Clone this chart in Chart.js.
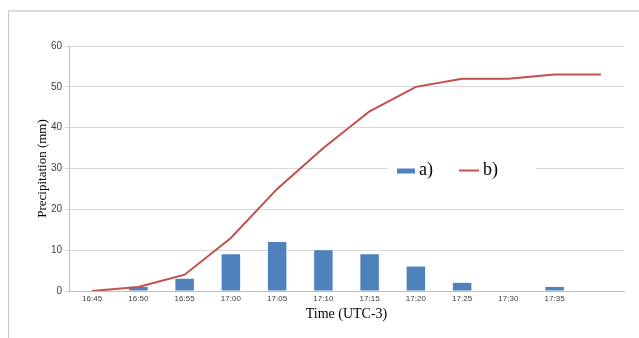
<!DOCTYPE html>
<html>
<head>
<meta charset="utf-8">
<script src="https://cdn.jsdelivr.net/npm/chart.js@4"></script>
<style>
  html, body { margin: 0; padding: 0; background: #fff; }
  #wrap { width: 639px; height: 338px; position: relative; }
</style>
</head>
<body>
<div id="wrap"><canvas id="myChart" width="639" height="338"></canvas></div>
<script>
const labels = ["16:45", "16:50", "16:55", "17:00", "17:05", "17:10", "17:15", "17:20", "17:25", "17:30", "17:35", ""];
const seriesA = [0, 1, 3, 9, 12, 10, 9, 6, 2, 0, 1, null];
const seriesB = [0, 1, 4, 13, 25, 35, 44, 50, 52, 52, 53, 53];
const yTicks = [0, 10, 20, 30, 40, 50, 60];

const blue = "#4f81bd";
const red = "#c0504d";
const serif = "'Liberation Serif', 'DejaVu Serif', serif";
const sans = "'Liberation Sans', Arial, sans-serif";

// frame lines (top and left edge of the chart box)
const framePlugin = {
  id: "frame",
  beforeDraw(chart) {
    const c = chart.ctx;
    c.save();
    c.fillStyle = "#fff";
    c.fillRect(0, 0, chart.width, chart.height);
    c.strokeStyle = "#dcdcdc";
    c.lineWidth = 2;
    c.beginPath();
    c.moveTo(8, 11);
    c.lineTo(chart.width, 11);
    c.stroke();
    c.strokeStyle = "#c8c8c8";
    c.lineWidth = 1;
    c.beginPath();
    c.moveTo(8.5, 11);
    c.lineTo(8.5, chart.height);
    c.stroke();
    c.restore();
  },
};

// legend drawn inside the plot, over the 30 gridline
const legendPlugin = {
  id: "innerLegend",
  afterDatasetsDraw(chart) {
    const c = chart.ctx;
    const bars = chart.data.datasets.find((d) => d.type === "bar");
    const line = chart.data.datasets.find((d) => d.type === "line");
    const y = chart.scales.y.getPixelForValue(30);
    c.save();
    c.fillStyle = "#fff";
    c.fillRect(388, y - 11, 148, 23);
    c.font = "18px " + serif;
    c.textBaseline = "middle";
    // a)
    c.fillStyle = bars.backgroundColor;
    c.fillRect(397, y, 18, 5);
    c.fillStyle = "#000";
    c.fillText(bars.label, 419, y + 2);
    // b)
    c.strokeStyle = line.borderColor;
    c.lineWidth = 2;
    c.beginPath();
    c.moveTo(459, y + 2);
    c.lineTo(479, y + 2);
    c.stroke();
    c.fillText(line.label, 483, y + 2);
    c.restore();
  },
};

const ctx = document.getElementById("myChart").getContext("2d");

const myChart = new Chart(ctx, {
  data: {
    labels: labels,
    datasets: [
      {
        type: "line",
        label: "b)",
        data: seriesB,
        borderColor: red,
        backgroundColor: red,
        borderWidth: 2,
        pointRadius: 0,
        tension: 0,
        order: 1,
      },
      {
        type: "bar",
        label: "a)",
        data: seriesA,
        backgroundColor: blue,
        borderWidth: 0,
        barPercentage: 0.8,
        categoryPercentage: 0.5,
        order: 2,
      },
    ],
  },
  options: {
    responsive: false,
    animation: false,
    layout: { padding: { left: 35, right: 15, top: 46, bottom: 15 } },
    plugins: {
      legend: { display: false },
      tooltip: { enabled: false },
    },
    scales: {
      x: {
        offset: true,
        grid: { display: false, drawTicks: false },
        border: { display: true, color: "#bfbfbf", width: 1 },
        ticks: {
          color: "#404040",
          font: { family: sans, size: 8 },
          maxRotation: 0,
          autoSkip: false,
          padding: 3,
        },
        title: {
          display: true,
          text: "Time (UTC-3)",
          color: "#000",
          font: { family: serif, size: 14 },
          padding: 0,
        },
        afterFit(scale) {
          scale.height = 32;
        },
      },
      y: {
        min: 0,
        max: 60,
        afterBuildTicks(scale) {
          scale.ticks = yTicks.map((v) => ({ value: v }));
        },
        grid: { color: "#d9d9d9", lineWidth: 1, tickLength: 4, drawTicks: true },
        border: { display: true, color: "#bfbfbf", width: 1 },
        ticks: {
          color: "#404040",
          font: { family: sans, size: 10 },
          padding: 3,
        },
        title: {
          display: true,
          text: "Precipitation (mm)",
          color: "#000",
          font: { family: serif, size: 13 },
          padding: 0,
        },
        afterFit(scale) {
          scale.width = 34;
        },
      },
    },
  },
  plugins: [framePlugin, legendPlugin],
});
</script>
</body>
</html>
